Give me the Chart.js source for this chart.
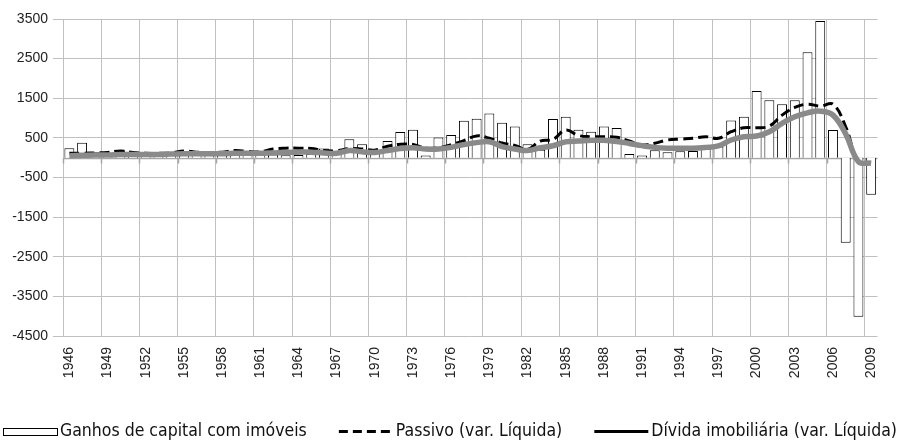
<!DOCTYPE html>
<html>
<head>
<meta charset="utf-8">
<script src="https://cdn.jsdelivr.net/npm/chart.js@4.4.1/dist/chart.umd.min.js"></script>
<style>
html,body{margin:0;padding:0;background:#fff;}
#wrap{width:899px;height:445px;position:relative;}
</style>
</head>
<body>
<div id="wrap"><canvas id="c" width="899" height="445"></canvas></div>
<script>
const years = [];
for (let y = 1946; y <= 2009; y++) years.push(String(y));

const ganhos = [240,380,140,110,180,80,60,70,90,100,70,60,70,80,90,70,80,60,70,90,
  230,100,464,338,190,420,650,705,55,510,570,930,985,1117,881,790,338,200,975,1032,
  705,655,785,748,90,58,188,138,160,170,230,280,941,1032,1685,1450,1350,1450,2663,3450,
  698,-2146,-4012,-934];

const passivo = [110,110,120,130,170,130,110,110,120,170,140,130,140,180,160,150,220,240,240,230,
  180,175,230,220,190,290,340,335,240,250,330,430,550,490,370,310,210,420,460,700,
  560,530,530,514,420,321,364,447,470,489,530,489,655,755,755,798,1074,1267,1350,1300,
  1350,780,-98,-160];

const divida = [50,60,70,70,80,80,80,80,90,100,100,100,100,110,110,110,120,130,140,140,
  120,110,180,150,130,180,230,250,220,220,260,330,380,400,280,220,180,250,300,400,
  420,440,440,410,360,304,260,240,238,238,260,296,447,530,547,655,865,1032,1132,1174,
  1074,600,-98,-138];

const yTicks = {min: -4500, max: 3500, step: 1000};
const legendNames = ['Ganhos de capital com imóveis', 'Passivo (var. Líquida)', 'Dívida imobiliária (var. Líquida)'];

const GRID = '#c0c0c0';
const LEGEND_FONT = "17.5px 'DejaVu Sans Condensed', 'Liberation Sans', sans-serif";

const zeroLine = {
  id: 'zeroLine',
  beforeDatasetsDraw(chart) {
    const {ctx, chartArea, scales: {x, y}} = chart;
    const py = Math.round(y.getPixelForValue(0)) + 0.5;
    ctx.save();
    ctx.strokeStyle = '#a6a6a6';
    ctx.lineWidth = 1.5;
    ctx.beginPath();
    ctx.moveTo(chartArea.left, py);
    ctx.lineTo(chartArea.right, py);
    const half = (x.getPixelForValue(1) - x.getPixelForValue(0)) / 2;
    for (let i = 0; i < years.length; i += 3) {
      const px = Math.round(x.getPixelForValue(i) - half) + 0.5;
      ctx.moveTo(px, py);
      ctx.lineTo(px, py + 5);
    }
    ctx.stroke();
    ctx.restore();
  }
};

// legend drawn in one row under the axis, spread across the canvas width
const rowLegend = {
  id: 'rowLegend',
  afterDraw(chart) {
    const ctx = chart.ctx;
    const cy = 431.5;
    const symW = 54, gapSym = 3, left = 3, right = 897;
    ctx.save();
    ctx.font = LEGEND_FONT;
    ctx.textBaseline = 'middle';
    ctx.textAlign = 'left';
    const widths = legendNames.map(t => ctx.measureText(t).width);
    const used = widths.reduce((a, b) => a + b, 0) + 3 * (symW + gapSym);
    const gap = (right - left - used) / 2;
    let x = left;
    legendNames.forEach((name, i) => {
      ctx.save();
      if (i === 0) {
        ctx.fillStyle = '#fff';
        ctx.strokeStyle = '#000';
        ctx.lineWidth = 1;
        ctx.fillRect(x, cy - 3.5, symW, 7);
        ctx.strokeRect(Math.round(x) + 0.5, Math.round(cy - 3.5) + 0.5, symW, 7);
      } else {
        ctx.strokeStyle = '#000';
        ctx.lineWidth = 3;
        ctx.setLineDash(i === 1 ? [9, 5] : []);
        ctx.beginPath();
        ctx.moveTo(x, cy);
        ctx.lineTo(x + symW, cy);
        ctx.stroke();
      }
      ctx.restore();
      x += symW + gapSym;
      ctx.fillStyle = '#111';
      ctx.fillText(name, x, cy);
      x += widths[i] + gap;
    });
    ctx.restore();
  }
};

new Chart(document.getElementById('c'), {
  type: 'bar',
  data: {
    labels: years,
    datasets: [
      {
        type: 'bar',
        label: legendNames[0],
        data: ganhos,
        backgroundColor: '#ffffff',
        borderColor: '#000000',
        borderWidth: 1,
        barPercentage: 0.78,
        categoryPercentage: 1.0,
        order: 3
      },
      {
        type: 'line',
        label: legendNames[1],
        data: passivo,
        borderColor: '#000000',
        backgroundColor: '#000000',
        borderWidth: 3,
        borderDash: [10, 5],
        pointRadius: 0,
        tension: 0.4,
        fill: false,
        order: 2
      },
      {
        type: 'line',
        label: legendNames[2],
        data: divida,
        borderColor: '#8a8a8a',
        backgroundColor: '#8a8a8a',
        borderWidth: 5.5,
        pointRadius: 0,
        tension: 0.4,
        fill: false,
        order: 1
      }
    ]
  },
  options: {
    responsive: false,
    animation: false,
    devicePixelRatio: 1,
    layout: {padding: {left: 0, right: 6, top: 19, bottom: 59}},
    plugins: {
      tooltip: {enabled: false},
      legend: {display: false}
    },
    scales: {
      x: {
        offset: true,
        grid: {
          offset: true,
          drawTicks: false,
          color: ctx => (ctx.index % 3 === 0 ? GRID : 'rgba(0,0,0,0)'),
          lineWidth: 1
        },
        border: {display: false},
        ticks: {
          autoSkip: false,
          minRotation: 90,
          maxRotation: 90,
          padding: 11,
          color: '#222',
          font: {family: "'Liberation Sans', Arial, sans-serif", size: 14},
          callback: function(v, i) { return i % 3 === 0 ? years[i] : ''; }
        },
        afterFit(scale) { scale.height = 50; }
      },
      y: {
        min: yTicks.min,
        max: yTicks.max,
        grid: {color: GRID, lineWidth: 1, tickLength: 10, drawTicks: true},
        border: {display: true, color: GRID},
        ticks: {
          stepSize: yTicks.step,
          padding: 5,
          color: '#222',
          font: {family: "'Liberation Sans', Arial, sans-serif", size: 14},
          callback: v => String(v)
        },
        afterFit(scale) { scale.width = 63; }
      }
    }
  },
  plugins: [zeroLine, rowLegend]
});
</script>
</body>
</html>
